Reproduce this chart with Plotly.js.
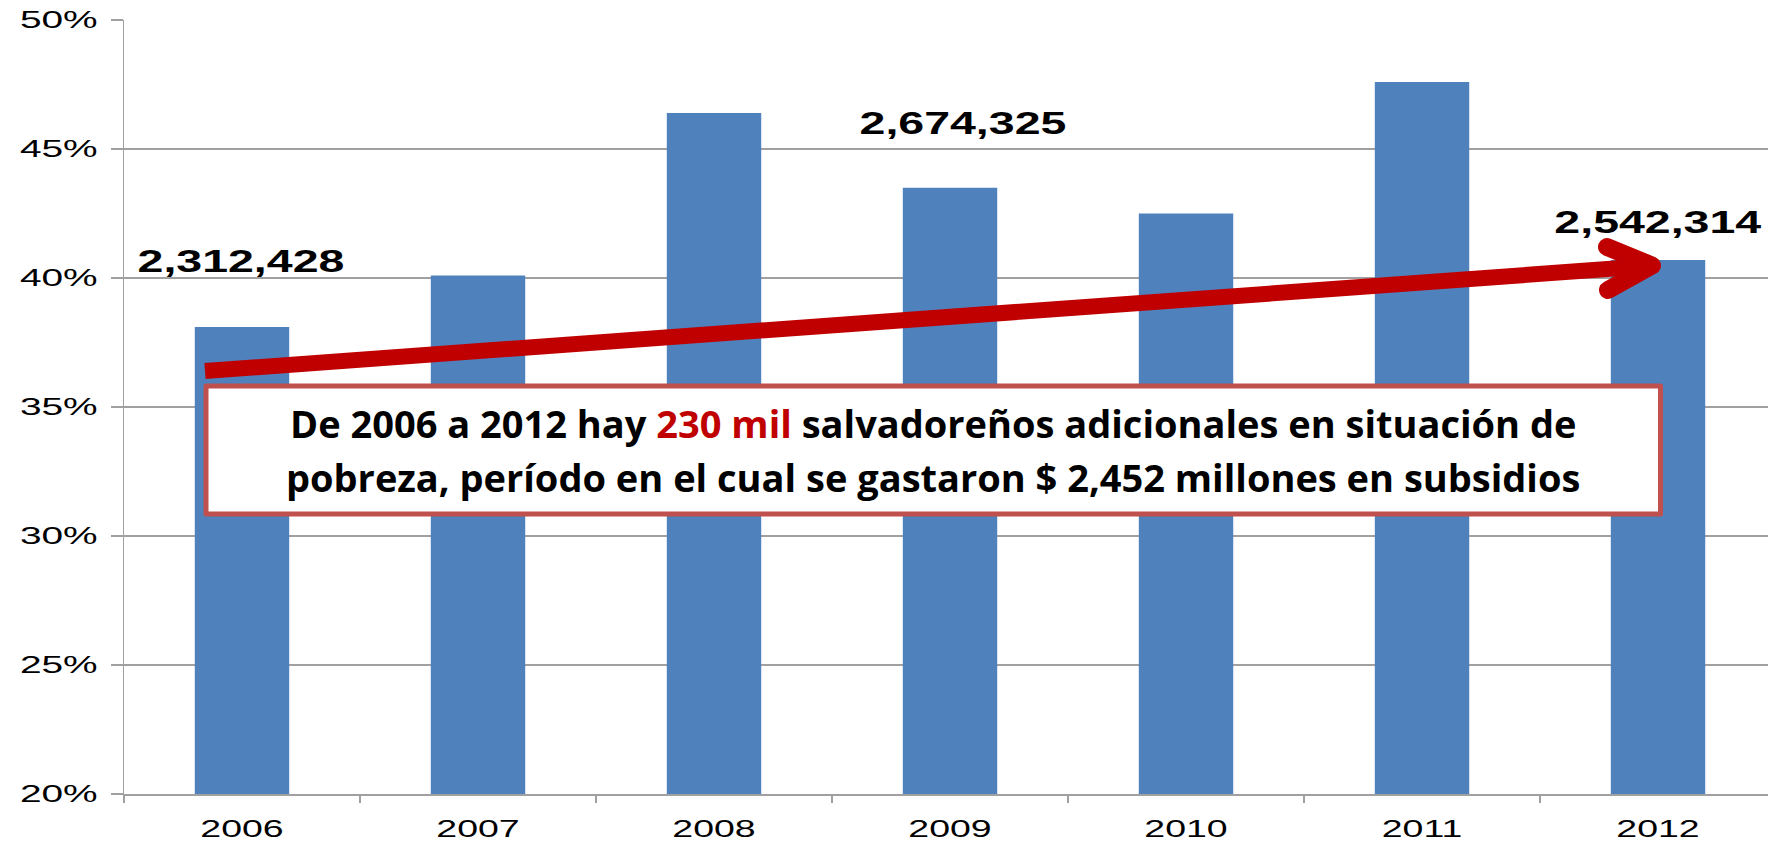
<!DOCTYPE html>
<html><head><meta charset="utf-8">
<script src="https://cdn.plot.ly/plotly-3.0.1.min.js"></script>
<style>html,body{margin:0;padding:0;background:#fff;overflow:hidden}#chart{width:1768px;height:844px}</style>
</head><body><div id="chart"></div>
<script>
// ---- data ----
const years = ['2006','2007','2008','2009','2010','2011','2012'];
const povertyPct = [38.1, 40.1, 46.4, 43.5, 42.5, 47.6, 40.7];
const yTickVals = [20, 25, 30, 35, 40, 45, 50];
const yTickText = ['20%', '25%', '30%', '35%', '40%', '45%', '50%'];
const labelYears = ['2006', '2009', '2012'];
const labelTexts = ['2,312,428', '2,674,325', '2,542,314'];
const boxLine1 = 'De 2006 a 2012 hay <span style="color:#C00000">230 mil</span> salvadoreños adicionales en situación de';
const boxLine2 = 'pobreza, período en el cual se gastaron $ 2,452 millones en subsidios';

// ---- geometry helpers (pixel -> paper) ----
const L = 124, T = 20, W = 1644, H = 774;
const px = x => (x - L) / W;
const py = y => (T + H - y) / H;

const grey = '#A0A0A0';
const red = '#C00000';

const trace = {
  type: 'bar', x: years, y: povertyPct, width: 0.4,
  marker: {color: '#4F81BD'}, hoverinfo: 'skip'
};

const labelShiftX = [-1, 13, 0];
const labelPosY = [40.64, 45.99, 42.16];
const annotations = [
  {xref: 'paper', yref: 'paper', x: px(933), y: py(423), text: boxLine1, showarrow: false,
   xanchor: 'center', yanchor: 'middle', font: {family: 'Open Sans', size: 38, weight: 700, color: '#000'}},
  {xref: 'paper', yref: 'paper', x: px(933), y: py(476.5), text: boxLine2, showarrow: false,
   xanchor: 'center', yanchor: 'middle', font: {family: 'Open Sans', size: 38, weight: 700, color: '#000'}}
];
labelYears.forEach((yr, i) => annotations.push({
  xref: 'x', yref: 'y', x: years.indexOf(yr), y: labelPosY[i], xshift: labelShiftX[i], text: labelTexts[i],
  showarrow: false, xanchor: 'center', yanchor: 'middle',
  font: {family: 'Liberation Sans', size: 31, weight: 700, color: '#000'}
}));

const shapes = [
  {type: 'rect', xref: 'paper', yref: 'paper', x0: px(206), x1: px(1660.5), y0: py(386), y1: py(514),
   line: {color: '#C0504D', width: 5}, fillcolor: '#FFFFFF', layer: 'above'},
  {type: 'line', xref: 'paper', yref: 'paper', x0: px(205), y0: py(371), x1: px(1642), y1: py(266.5),
   line: {color: red, width: 16}, layer: 'above'},
  {type: 'path', xref: 'paper', yref: 'paper',
   path: `M ${px(1607)},${py(247)} L ${px(1652)},${py(265.5)} L ${px(1608)},${py(290)}`,
   line: {color: red, width: 18}, layer: 'above'}
];

const layout = {
  width: 1768, height: 844,
  margin: {l: L, r: 0, t: T, b: 844 - T - H, pad: 0},
  paper_bgcolor: '#fff', plot_bgcolor: '#fff',
  showlegend: false,
  xaxis: {
    type: 'category', range: [-0.5, 6.466], showline: true, linecolor: grey, linewidth: 1.5,
    ticks: 'outside', tickson: 'boundaries', ticklen: 7, tickcolor: grey, tickwidth: 1.5,
    showgrid: false, zeroline: false, ticklabelstandoff: 14,
    tickfont: {family: 'Liberation Sans', size: 23, color: '#000'}
  },
  yaxis: {
    range: [20, 50], tickvals: yTickVals, ticktext: yTickText,
    showline: true, linecolor: grey, linewidth: 1.5,
    ticks: 'outside', ticklen: 12, tickcolor: grey, tickwidth: 1.5,
    showgrid: true, gridcolor: grey, gridwidth: 1.5, zeroline: false, ticklabelstandoff: 8,
    tickfont: {family: 'Liberation Sans', size: 24, color: '#000'}
  },
  annotations: annotations,
  shapes: shapes
};

function stretch(sel, s, origin) {
  document.querySelectorAll(sel).forEach(t => {
    const b = t.getBBox();
    const cx = origin === 'right' ? b.x + b.width : b.x + b.width / 2;
    const orig = t.getAttribute('transform') || '';
    t.setAttribute('transform', orig + ` translate(${cx},0) scale(${s},1) translate(${-cx},0)`);
  });
}

Plotly.newPlot('chart', [trace], layout, {staticPlot: true, displayModeBar: false}).then(() => {
  try {
    stretch('.ytick text', 1.62, 'right');
    stretch('.xtick text', 1.63, 'center');
    [2, 3, 4].forEach(i => stretch(`.annotation[data-index="${i}"] text`, 1.5, 'center'));
  } catch (e) {}
  const paths = document.querySelectorAll('.layer-above .shapelayer path');
  if (paths.length >= 3) {
    paths[2].style.strokeLinecap = 'round';
    paths[2].style.strokeLinejoin = 'round';
    paths[0].style.strokeLinejoin = 'round';
  }
});
</script>
</body></html>
